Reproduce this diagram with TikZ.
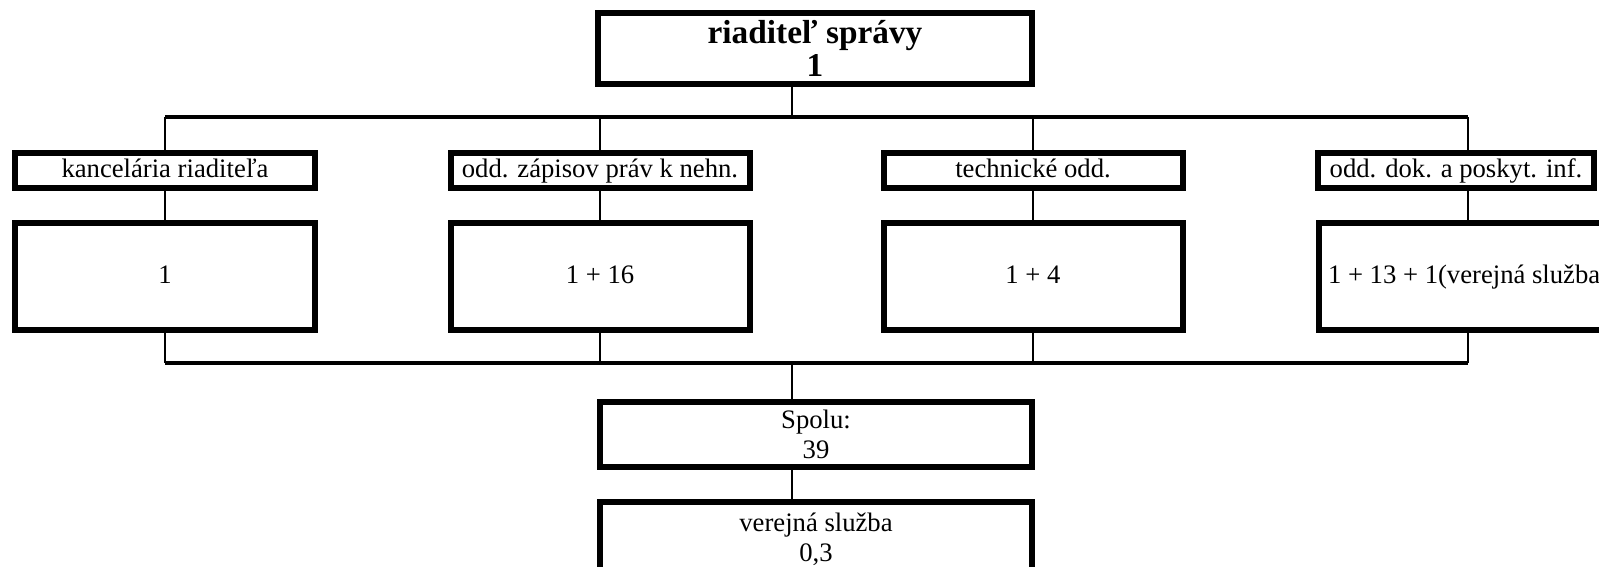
\documentclass[tikz,border=0pt]{standalone}
\usepackage{fontspec}
\setmainfont{Liberation Serif}

\begin{document}
\begin{tikzpicture}[
      x=0.45pt, y=-0.45pt,
      font=\fontsize{12}{13.5}\selectfont,
      box/.style={draw, line width=2.7pt, align=center, inner sep=0pt,
        minimum width=134.55pt},
      head/.style={box, minimum height=15.75pt, text height=8.5pt, text depth=2.5pt},
      count/.style={box, minimum height=48.15pt, text height=8.5pt, text depth=2.5pt},
      chief/.style={box, minimum width=195.3pt, minimum height=31.95pt,
        font=\fontsize{15}{15}\selectfont\bfseries},
      total/.style={box, minimum width=194.4pt, minimum height=29.25pt},
      bus/.style={line width=1.5pt},
      drop/.style={line width=1.2pt},
      link/.style={line width=0.7pt}
    ]
    \useasboundingbox (0,0) rectangle (1599,566);
    \clip (0,0) rectangle (1599,566);

    \node[chief] at (815,48.5) (chief) {riaditeľ správy\\1};
    \node[head] at (165,170.5) (kanc) {kancelária riaditeľa};
    \node[head] at (600,170.5) (zapis) {odd. zápisov práv k nehn.};
    \node[head] at (1033,170.5) (tech) {technické odd.};
    \node[head, minimum width=124.2pt] at (1456,170.5) (dok) {odd. dok. a poskyt. inf.};
    \node[count] at (165,276.5) (nkanc) {1};
    \node[count] at (600,276.5) (nzapis) {1 + 16};
    \node[count] at (1033,276.5) (ntech) {1 + 4};
    \node[count] at (1468,276.5) (ndok) {\makebox[126pt][l]{1 + 13 + 1(verejná služba}};
    \node[total] at (816,434) (spolu) {Spolu:\\39};
    \node[total, minimum height=33.75pt] at (816,539.5) (vs) {verejná služba\\0,3};

    \coordinate (topbus) at (792,117);
    \coordinate (botbus) at (792,363);

    \draw[link] (chief.south -| topbus) -- (topbus);
    \draw[bus] (kanc.north |- topbus) -- (ndok.north |- topbus);
    \draw[drop] (kanc.north |- topbus) -- (kanc.north);
    \draw[drop] (zapis.north |- topbus) -- (zapis.north);
    \draw[drop] (tech.north |- topbus) -- (tech.north);
    \draw[drop] (ndok.north |- topbus) -- (ndok.north |- dok.north);
    \draw[drop] (kanc.south) -- (nkanc.north);
    \draw[drop] (zapis.south) -- (nzapis.north);
    \draw[drop] (tech.south) -- (ntech.north);
    \draw[drop] (ndok.north |- dok.south) -- (ndok.north);
    \draw[drop] (nkanc.south) -- (nkanc.south |- botbus);
    \draw[drop] (nzapis.south) -- (nzapis.south |- botbus);
    \draw[drop] (ntech.south) -- (ntech.south |- botbus);
    \draw[drop] (ndok.south) -- (ndok.south |- botbus);
    \draw[bus] (nkanc.south |- botbus) -- (ndok.south |- botbus);
    \draw[link] (botbus) -- (spolu.north -| botbus);
    \draw[link] (spolu.south -| botbus) -- (vs.north -| botbus);
  \end{tikzpicture}
\end{document}
